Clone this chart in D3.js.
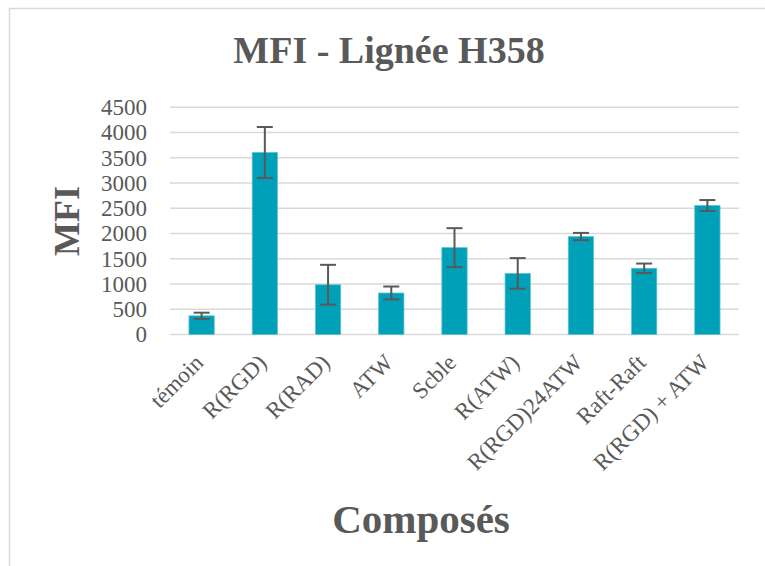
<!DOCTYPE html>
<html>
<head>
<meta charset="utf-8">
<script src="https://cdn.jsdelivr.net/npm/d3@7"></script>
<style>
  html, body { margin: 0; padding: 0; background: #fff; }
  svg { display: block; }
  text { font-family: "Liberation Serif", "DejaVu Serif", serif; fill: #595959; }
</style>
</head>
<body>
<svg id="chart" width="765" height="566"></svg>
<script>
const categories = ["témoin", "R(RGD)", "R(RAD)", "ATW", "Scble", "R(ATW)", "R(RGD)24ATW", "Raft-Raft", "R(RGD) + ATW"];
const values = [370, 3605, 985, 822, 1720, 1210, 1940, 1312, 2555];
const errors = [62, 505, 395, 128, 386, 303, 72, 93, 108];
const yTicks = [0, 500, 1000, 1500, 2000, 2500, 3000, 3500, 4000, 4500];
const titleText = "MFI - Lignée H358";
const yTitle = "MFI";
const xTitle = "Composés";

const svg = d3.select("#chart");
svg.append("rect").attr("width", 765).attr("height", 566).attr("fill", "#fff");
svg.append("rect").attr("x", 9.5).attr("y", 8.5).attr("width", 780).attr("height", 580)
  .attr("fill", "none").attr("stroke", "#d9d9d9").attr("stroke-width", 1.5);

const x = d3.scaleBand().domain(categories).range([170, 739]).paddingInner(0.6).paddingOuter(0.3);
const y = d3.scaleLinear().domain([0, 4500]).range([334.5, 107.3]);

// gridlines
svg.append("g").selectAll("line").data(yTicks).join("line")
  .attr("x1", 170).attr("x2", 739)
  .attr("y1", d => y(d)).attr("y2", d => y(d))
  .attr("stroke", "#d9d9d9").attr("stroke-width", 1.5);

// y axis labels
const yAxis = d3.axisLeft(y).tickValues(yTicks).tickSize(0).tickPadding(0).tickFormat(d3.format("d"));
const gy = svg.append("g").attr("transform", "translate(147,0)").call(yAxis);
gy.select(".domain").remove();
gy.selectAll("text").attr("font-size", 23).attr("font-family", "Liberation Serif").attr("fill", "#595959").attr("dy", "0.32em");

// bars
svg.append("g").selectAll("rect").data(categories).join("rect")
  .attr("x", d => x(d)).attr("width", x.bandwidth())
  .attr("y", (d, i) => y(values[i])).attr("height", (d, i) => y(0) - y(values[i]))
  .attr("fill", "#00a0b9").attr("stroke", "#5cc3d2").attr("stroke-width", 0.75);

// error bars
const eg = svg.append("g").attr("stroke", "#595959").attr("stroke-width", 2).attr("fill", "none");
categories.forEach((c, i) => {
  const cx = x(c) + x.bandwidth() / 2;
  const top = y(values[i] + errors[i]), bot = y(values[i] - errors[i]);
  eg.append("line").attr("x1", cx).attr("x2", cx).attr("y1", top).attr("y2", bot);
  eg.append("line").attr("x1", cx - 8).attr("x2", cx + 8).attr("y1", top).attr("y2", top);
  eg.append("line").attr("x1", cx - 8).attr("x2", cx + 8).attr("y1", bot).attr("y2", bot);
});

// x labels
svg.append("g").selectAll("text").data(categories).join("text")
  .attr("transform", d => `translate(${x(d) + x.bandwidth() / 2 + 3},364) rotate(-45)`)
  .attr("text-anchor", "end").attr("font-size", 23)
  .text(d => d);

// titles
svg.append("text").attr("x", 389).attr("y", 63).attr("text-anchor", "middle")
  .attr("font-size", 38).attr("font-weight", "bold").text(titleText);
svg.append("text").attr("transform", "translate(79,221) rotate(-90)").attr("text-anchor", "middle")
  .attr("font-size", 36).attr("font-weight", "bold").text(yTitle);
svg.append("text").attr("x", 421).attr("y", 533).attr("text-anchor", "middle")
  .attr("font-size", 41).attr("font-weight", "bold").text(xTitle);
</script>
</body>
</html>
